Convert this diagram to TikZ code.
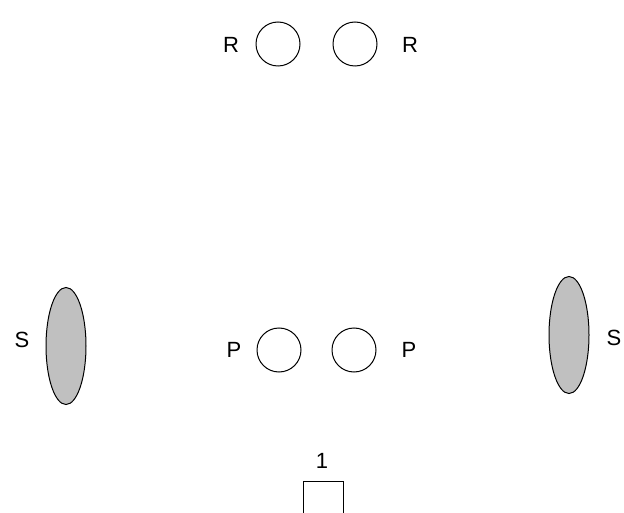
\documentclass[tikz,border=0pt]{standalone}
\usepackage{fontspec}
\setmainfont{Liberation Sans}
\usetikzlibrary{shapes.geometric}
\definecolor{sgray}{RGB}{192,192,192}

\begin{document}
\begin{tikzpicture}[x=1pt, y=-1pt,
  ring/.style={circle, draw=black, line width=1pt, minimum size=44pt, inner sep=0pt},
  lens/.style={ellipse, draw=black, fill=sgray, line width=1pt, minimum width=40pt, minimum height=117pt, inner sep=0pt},
  box/.style={rectangle, draw=black, line width=1pt, minimum size=40pt, inner sep=0pt},
  lbl/.style={inner sep=0pt, font=\fontsize{22}{26}\selectfont}]

\useasboundingbox (0,0) rectangle (624,513);

% Top circles
\node[ring] (R1) at (278,44) {};
\node[ring] (R2) at (355,44) {};
\node[lbl] (LR1) at (231,45) {R};
\node[lbl] (LR2) at (410,45) {R};

% Lower circles
\node[ring] (P1) at (279,350) {};
\node[ring] (P2) at (354,350) {};
\node[lbl] (LP1) at (234,350) {P};
\node[lbl] (LP2) at (409,350) {P};

% Side ellipses
\node[lens] (S1) at (66,346) {};
\node[lens] (S2) at (569,335) {};
\node[lbl] (LS1) at (22,340) {S};
\node[lbl] (LS2) at (614,338) {S};

% Square
\node[box] (B) at (323,501) {};
\node[lbl] (LB) at (322,461) {1};

\end{tikzpicture}
\end{document}
